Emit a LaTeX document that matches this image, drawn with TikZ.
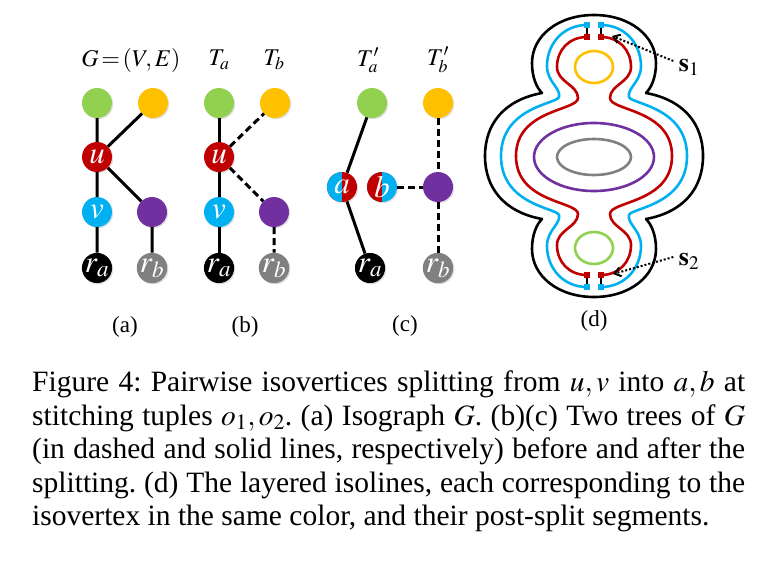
\documentclass[tikz,border=0pt]{standalone}
\usepackage{mathptmx}
\usepackage{fontspec}
\setmainfont{Liberation Serif}
\usetikzlibrary{shadows,arrows.meta}

\definecolor{isogreen}{HTML}{92D050}
\definecolor{isoyellow}{HTML}{FFC000}
\definecolor{isored}{HTML}{C00000}
\definecolor{isocyan}{HTML}{00B0F0}
\definecolor{isopurple}{HTML}{7030A0}
\definecolor{isogray}{HTML}{808080}

\tikzset{
  vert/.style={circle, minimum size=30pt, inner sep=0pt, text=white,
    font=\fontsize{31}{31}\selectfont,
    drop shadow={opacity=0.25, shadow xshift=1.2pt, shadow yshift=-1.2pt}},
  halves/.style={path picture={\fill[#1] (path picture bounding box.south west)
    rectangle (path picture bounding box.north);}},
  treeedge/.style={line width=3pt},
  cutedge/.style={line width=3pt, dash pattern=on 7pt off 4pt},
  isoline/.style={line width=2.6pt, line join=round},
  treetitle/.style={font=\fontsize{24}{24}\selectfont, inner sep=1pt},
  paneltag/.style={font=\fontsize{23}{23}\selectfont},
  splittag/.style={font=\fontsize{26}{26}\selectfont},
  pointer/.style={line width=2pt, dotted, -{Straight Barb[length=6pt, width=9pt]}},
}

\begin{document}
\begin{tikzpicture}[x=1pt, y=-1pt]
  \useasboundingbox (0,0) rectangle (782,560);

  % (a) isograph G
  \node[treetitle] (titleG) at (131,60) {$G\!=\!(V,E)$};
  \node[vert, fill=isogreen] (ga) at (97,103) {};
  \node[vert, fill=isoyellow] (ya) at (153,103) {};
  \node[vert, fill=isored] (ua) at (97,157) {$u$};
  \node[vert, fill=isocyan] (va) at (97,212) {$v$};
  \node[vert, fill=isopurple] (pa) at (152,212) {};
  \node[vert, fill=black] (raa) at (97,268) {$r_a$};
  \node[vert, fill=isogray] (rba) at (152,268) {$r_b$};
  \draw[treeedge] (ga) -- (ua) (ya) -- (ua) (ua) -- (va) (ua) -- (pa)
    (va) -- (raa) (pa) -- (rba);
  \node[paneltag] (taga) at (125,327) {(a)};

  % (b) trees before the splitting
  \node[treetitle] (titleTa) at (219,60) {$T_a$};
  \node[treetitle] (titleTb) at (274,60) {$T_b$};
  \node[vert, fill=isogreen] (gb) at (219,103) {};
  \node[vert, fill=isoyellow] (yb) at (275,103) {};
  \node[vert, fill=isored] (ub) at (219,157) {$u$};
  \node[vert, fill=isocyan] (vb) at (219,212) {$v$};
  \node[vert, fill=isopurple] (pb) at (274,212) {};
  \node[vert, fill=black] (rab) at (219,268) {$r_a$};
  \node[vert, fill=isogray] (rbb) at (274,268) {$r_b$};
  \draw[treeedge] (gb) -- (ub) (ub) -- (vb) (vb) -- (rab);
  \draw[cutedge] (ub) -- (yb) (ub) -- (pb) (pb) -- (rbb);
  \node[paneltag] (tagb) at (245,327) {(b)};

  % (c) trees after the splitting
  \node[treetitle] (titleTa2) at (368,60) {$T'_a$};
  \node[treetitle] (titleTb2) at (438,60) {$T'_b$};
  \node[vert, fill=isogreen] (gc) at (372,103) {};
  \node[vert, fill=isoyellow] (yc) at (438,103) {};
  \node[vert, fill=isored, halves=isocyan] (ac) at (342,187) {$a$};
  \node[vert, fill=isocyan, halves=isored] (bc) at (382,187) {$b$};
  \node[vert, fill=isopurple] (pc) at (438,187) {};
  \node[vert, fill=black] (rac) at (370,268) {$r_a$};
  \node[vert, fill=isogray] (rbc) at (438,268) {$r_b$};
  \draw[treeedge] (gc) -- (ac) (ac) -- (rac);
  \draw[cutedge] (bc) -- (pc) (yc) -- (pc) (pc) -- (rbc);
  \node[paneltag] (tagc) at (405,326) {(c)};

  % (d) layered isolines, one quarter mirrored four times
  \begin{scope}[shift={(594,156)}]
    \foreach \sx/\sy in {1/1, -1/1, 1/-1, -1/-1} {
      \begin{scope}[xscale=\sx, yscale=\sy]
        % outer (black)
        \draw[isoline, black] (0,-141) .. controls (-36,-141) and (-62,-120) .. (-62,-93)
          .. controls (-62,-78) and (-57,-68) .. (-52,-63)
          .. controls (-90,-56) and (-109,-32) .. (-109,0);
        % v (cyan)
        \draw[isoline, isocyan] (-7,-131) .. controls (-31,-131) and (-47,-112) .. (-47,-90)
          .. controls (-47,-74) and (-33,-68) .. (-35,-59)
          .. controls (-37,-52) and (-93,-49) .. (-93,0);
        % u (red)
        \draw[isoline, isored] (-7,-119) .. controls (-25,-119) and (-37,-106) .. (-37,-89)
          .. controls (-37,-74) and (-16,-71) .. (-16,-58)
          .. controls (-16,-45) and (-78,-47) .. (-78,0);
        % post-split ends
        \draw[line width=2pt] (-7,-131) -- (-7,-119);
        \fill[isocyan] (-10,-134) rectangle (-4,-128);
        \fill[isored] (-10,-122) rectangle (-4,-116);
      \end{scope}
    }
  \end{scope}
  \draw[isoline, isoyellow] (594,67) ellipse [x radius=19, y radius=16];
  \draw[isoline, isopurple] (594,157) ellipse [x radius=60, y radius=34];
  \draw[isoline, isogray] (594,157) ellipse [x radius=37, y radius=18];
  \draw[isoline, isogreen] (594,248) ellipse [x radius=19, y radius=16];

  \node[splittag] (s1) at (689,67) {$\mathbf{s}_1$};
  \coordinate (s1tip) at (612,36);
  \draw[pointer] ([xshift=-2pt, yshift=6pt]s1.west) -- (s1tip);
  \node[splittag] (s2) at (689,261) {$\mathbf{s}_2$};
  \coordinate (s2tip) at (613,274);
  \draw[pointer] ([xshift=-2pt, yshift=4pt]s2.west) -- (s2tip);
  \node[paneltag] (tagd) at (594,321) {(d)};

  % caption
  \node[anchor=north west, inner sep=0pt, text width=713pt, align=justify,
    font=\fontsize{29.5}{33.5}\selectfont\frenchspacing] (caption) at (32,371)
    {Figure 4: Pairwise isovertices splitting from $u,v$ into $a,b$ at\linebreak
     stitching tuples $o_1,o_2$. (a) Isograph $G$. (b)(c) Two trees of $G$\linebreak
     (in dashed and solid lines, respectively) before and after the\linebreak
     splitting. (d) The layered isolines, each corresponding to the\linebreak
     isovertex in the same color, and their post-split segments.};
\end{tikzpicture}
\end{document}
